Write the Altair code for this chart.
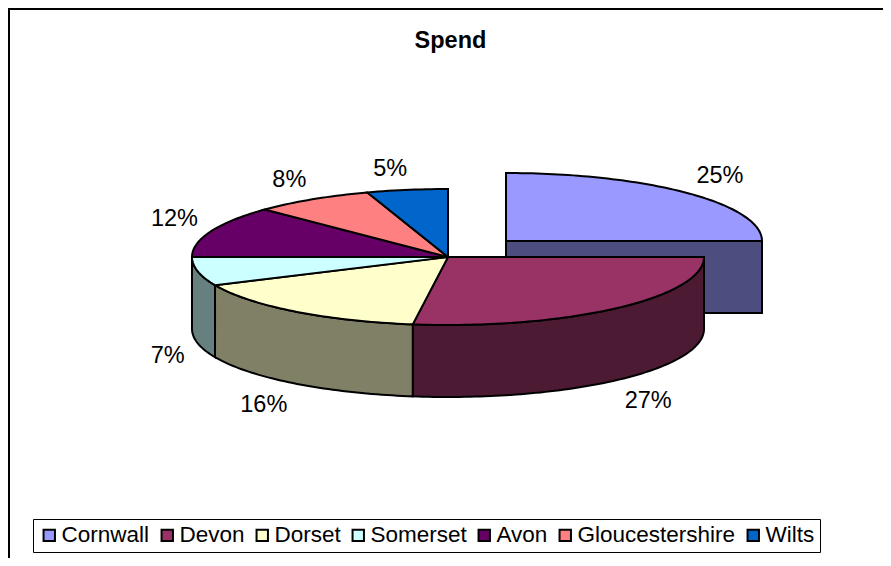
import numpy as np
import pandas as pd
import altair as alt

COUNTIES = ["Cornwall", "Devon", "Dorset", "Somerset", "Avon", "Gloucestershire", "Wilts"]
SPEND = [25.0, 27.2, 16.0, 6.8, 12.3, 7.6, 5.1]
TOP_COLORS = ["#9999FF", "#993366", "#FFFFCC", "#CCFFFF", "#660066", "#FF8080", "#0066CC"]
WALL_COLORS = ["#4D4D80", "#4D1A33", "#808066", "#668080", "#330033", "#804040", "#003366"]

W, H = 875, 550
FONT = "Liberation Sans"
CX, CY, RX, RY, DEPTH = 448.0, 257.0, 256.0, 68.0, 72.0
EXPLODE_X, EXPLODE_Y = 58.0, -16.0

fracs = np.array(SPEND, dtype=float) / sum(SPEND)
edges = np.concatenate([[0.0], np.cumsum(fracs)]) * 2 * np.pi


def rim(a0, a1, cx, cy):
    n = max(2, int(abs(a1 - a0) / 0.02))
    t = np.linspace(a0, a1, n)
    return cx + RX * np.sin(t), cy - RY * np.cos(t)


def frame(xs, ys):
    xs, ys = np.append(xs, xs[0]), np.append(ys, ys[0])
    return pd.DataFrame({"x": xs, "y": ys, "i": np.arange(len(xs))})


xsc = alt.Scale(domain=[8, 8 + W], range=[0, W])
ysc = alt.Scale(domain=[8, 8 + H], range=[0, H])


def poly(df, color):
    return alt.Chart(df).mark_line(
        stroke="black", strokeWidth=2, strokeJoin="miter", strokeCap="square", clip=False
    ).encode(
        x=alt.X("x:Q", scale=xsc, axis=None),
        y=alt.Y("y:Q", scale=ysc, axis=None),
        order="i:Q",
        fill=alt.value(color),
    )


layers = []

# hidden legend carrier, under the pie
legend_df = pd.DataFrame({"county": COUNTIES, "x": [CX] * 7, "y": [CY] * 7})
layers.append(
    alt.Chart(legend_df).mark_square(size=4).encode(
        x=alt.X("x:Q", scale=xsc, axis=None),
        y=alt.Y("y:Q", scale=ysc, axis=None),
        fill=alt.Fill(
            "county:N",
            scale=alt.Scale(domain=COUNTIES, range=TOP_COLORS),
            sort=COUNTIES,
            legend=alt.Legend(
                title=None, orient="none", legendX=25, legendY=511, direction="horizontal",
                columns=7, symbolType="square", symbolSize=130, symbolStrokeColor="black",
                symbolStrokeWidth=2, strokeColor="black", fillColor="white", padding=5,
                labelFont=FONT, labelFontSize=22.5, labelColor="black", labelOffset=1,
                columnPadding=6, labelLimit=300, symbolOpacity=1,
            ),
        ),
    )
)

# Cornwall, pulled out of the pie
ox, oy = CX + EXPLODE_X, CY + EXPLODE_Y
a0, a1 = edges[0], edges[1]
xs, ys = rim(a0, a1, ox, oy)
layers.append(poly(frame(np.array([ox, xs[-1], xs[-1], ox]),
                         np.array([oy, oy, oy + DEPTH, oy + DEPTH])), WALL_COLORS[0]))
layers.append(poly(frame(np.r_[ox, xs], np.r_[oy, ys]), TOP_COLORS[0]))

# front walls of the remaining slices
for k in range(1, 7):
    a0, a1 = edges[k], min(edges[k + 1], np.pi * 1.5)
    if a1 <= a0:
        continue
    xs, ys = rim(a0, a1, CX, CY)
    layers.append(poly(frame(np.r_[xs, xs[::-1]], np.r_[ys, ys[::-1] + DEPTH]), WALL_COLORS[k]))

# top faces
for k in range(1, 7):
    xs, ys = rim(edges[k], edges[k + 1], CX, CY)
    layers.append(poly(frame(np.r_[CX, xs], np.r_[CY, ys]), TOP_COLORS[k]))

# percentage labels outside each slice
mid = (edges[:-1] + edges[1:]) / 2
lx, ly, lt = [], [], []
for k, (m, v) in enumerate(zip(mid, SPEND)):
    s, c = np.sin(m), np.cos(m)
    cx, cy = (ox, oy) if k == 0 else (CX, CY)
    text = f"{round(v)}%"
    hw = len(text) * 7.2
    px = cx + RX * s + 16 * s + np.sign(s) * hw
    if c > 0:
        py = cy - RY * c - 14 * c - 7
    else:
        py = cy - RY * c - 16 * c + 9 + DEPTH
    lx.append(px)
    ly.append(py)
    lt.append(text)
labels = pd.DataFrame({"x": lx, "y": ly, "t": lt})
layers.append(
    alt.Chart(labels).mark_text(font=FONT, fontSize=23.5, color="black", align="center", baseline="middle").encode(
        x=alt.X("x:Q", scale=xsc, axis=None),
        y=alt.Y("y:Q", scale=ysc, axis=None),
        text="t:N",
    )
)

# chart area border (top and left only are in view)
layers.append(alt.Chart(legend_df.head(1)).mark_rule(color="black", strokeWidth=2).encode(
    x=alt.value(0), x2=alt.value(W), y=alt.value(1)))
layers.append(alt.Chart(legend_df.head(1)).mark_rule(color="black", strokeWidth=2).encode(
    x=alt.value(1), y=alt.value(0), y2=alt.value(H)))

chart = alt.layer(*layers).properties(
    width=W, height=H,
    padding=0,
    autosize=alt.AutoSizeParams(type="none"),
    background="white",
    title=alt.TitleParams("Spend", font=FONT, fontSize=23.5, fontWeight="bold", color="black",
                          anchor="middle", dy=49, dx=5),
).configure_view(stroke=None)

chart.save("out.html", embed_options={"renderer": "svg", "actions": False})
